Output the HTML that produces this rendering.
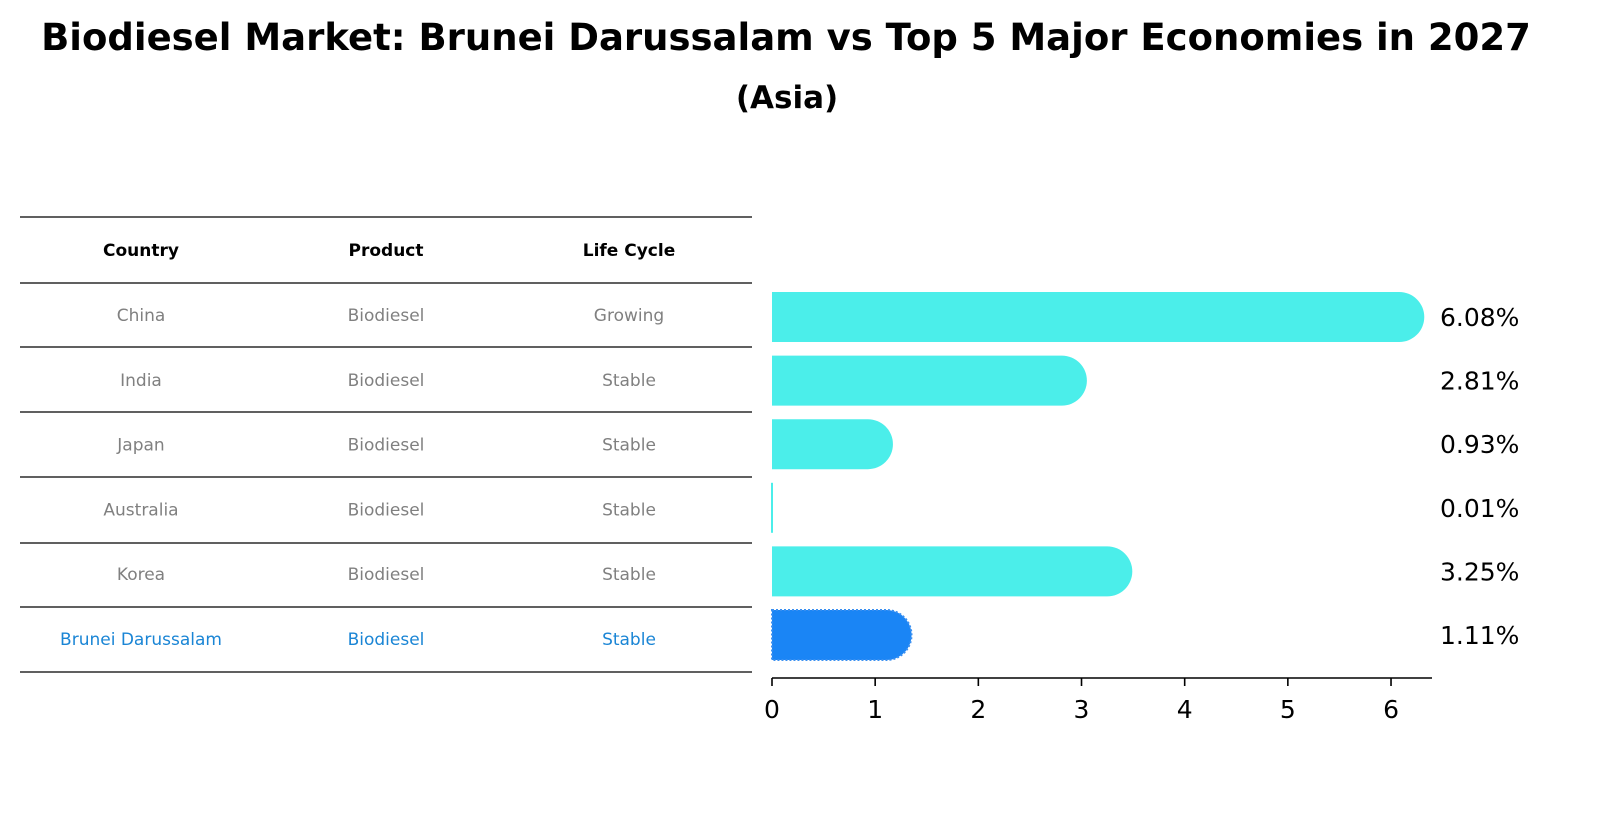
<!DOCTYPE html>
<html><head><meta charset="utf-8"><style>
body{margin:0;background:#fff;font-family:"DejaVu Sans","Liberation Sans",sans-serif;}
svg text{font-family:"DejaVu Sans","Liberation Sans",sans-serif;}
</style></head><body>
<svg width="1609" height="823" xmlns="http://www.w3.org/2000/svg">
<text x="786" y="50" text-anchor="middle" font-size="37" font-weight="bold">Biodiesel Market: Brunei Darussalam vs Top 5 Major Economies in 2027</text>
<text x="787" y="108" text-anchor="middle" font-size="31" font-weight="bold">(Asia)</text>
<g id="table"></g>
<g id="bars"></g>
</svg>
<script>
const countries=["China","India","Japan","Australia","Korea","Brunei Darussalam"];
const products=["Biodiesel","Biodiesel","Biodiesel","Biodiesel","Biodiesel","Biodiesel"];
const lifecycles=["Growing","Stable","Stable","Stable","Stable","Stable"];
const values=[6.08,2.81,0.93,0.01,3.25,1.11];
const valueLabels=["6.08%","2.81%","0.93%","0.01%","3.25%","1.11%"];
const ticks=[0,1,2,3,4,5,6];
const NS="http://www.w3.org/2000/svg";
function mk(t,a,p){const e=document.createElementNS(NS,t);for(const k in a)e.setAttribute(k,a[k]);p.appendChild(e);return e;}
const x=v=>772+v*103.17;
const rowY=i=>317+i*63.6;
const tb=document.getElementById('table');
const lines=[217,283,347,412,477,543,607,672];
lines.forEach((ly,i)=>{const l=mk('line',{x1:20,x2:752,y1:ly,y2:ly,stroke:'#000','stroke-width':1.3},tb);

});
const cx=[141,386,629];
["Country","Product","Life Cycle"].forEach((h,j)=>{const t=mk('text',{x:cx[j],y:256,'text-anchor':'middle','font-size':17,'font-weight':'bold'},tb);t.textContent=h;

});
countries.forEach((c,i)=>{const y=321+i*64.8;const col=i==5?'#1a85d5':'#808080';
[c,products[i],lifecycles[i]].forEach((s,j)=>{const t=mk('text',{x:cx[j],y:y,'text-anchor':'middle','font-size':17,fill:col},tb);t.textContent=s;

});});
const g=document.getElementById('bars');
const r=25,h=50;
values.forEach((v,i)=>{const cy=rowY(i);const w=x(v)-x(0);const isB=i==5;const fill=isB?'#1a85f5':'#4beeea';
let el;
if(w<2){el=mk('rect',{x:771,y:cy-h/2,width:2,height:h,fill:fill},g);}
else{const x0=x(0),x1=x(v);
el=mk('path',{d:`M${x0},${cy-h/2} H${x1} A${r},${r} 0 0 1 ${x1},${cy+h/2} H${x0} Z`,fill:fill,stroke:isB?'#3a8ff0':'none','stroke-dasharray':isB?'2,2':'','stroke-width':isB?2:0},g);}


const t=mk('text',{x:1440,y:cy+9,'font-size':25},g);t.textContent=valueLabels[i];

});
const ax=mk('line',{x1:772,x2:1432,y1:678,y2:678,stroke:'#000','stroke-width':1.6},g);


ticks.forEach(v=>{const tk=mk('line',{x1:x(v),x2:x(v),y1:678,y2:686,stroke:'#000','stroke-width':1.6},g);


const t=mk('text',{x:x(v),y:718,'text-anchor':'middle','font-size':25},g);t.textContent=v;

});
</script>
</body></html>
